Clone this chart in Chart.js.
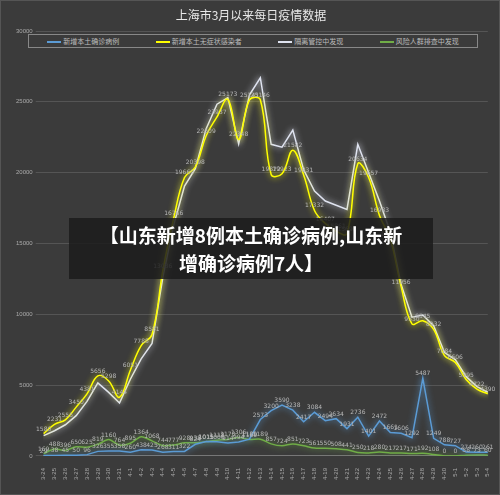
<!DOCTYPE html><html><head><meta charset="utf-8">
<script src="https://cdn.jsdelivr.net/npm/chart.js@4"></script>
<style>
html,body{margin:0;padding:0;background:#3b3b3b;}
#wrap{position:relative;width:500px;height:495px;border:1px solid #555;box-sizing:border-box;}
#title{position:absolute;left:0;top:5px;width:500px;text-align:center;color:#e8e8e8;font:12px "Noto Sans CJK SC";}
#legend{position:absolute;left:27px;top:33px;width:450px;height:14px;border:1px solid #888;box-sizing:border-box;display:flex;justify-content:space-around;align-items:center;font:7px "Noto Sans CJK SC";color:#bbb;background:#3b3b3b;}
#legend span i{display:inline-block;width:14px;height:1.5px;vertical-align:middle;margin-right:2px;}
#banner{position:absolute;left:68px;top:217px;width:364px;height:61px;background:rgba(28,28,28,0.85);color:#fff;font:bold 19px "Noto Sans CJK SC";text-align:center;line-height:28px;padding-top:3px;box-sizing:border-box;}
</style></head><body><div id="wrap"><canvas id="c" width="498" height="493"></canvas>
<div id="title">上海市3月以来每日疫情数据</div>
<div id="legend"></div>
<div id="banner">【山东新增8例本土确诊病例,山东新<br>增确诊病例7人】</div></div>
<script>
const categories=["3-24","3-25","3-26","3-27","3-28","3-29","3-30","3-31","4-1","4-2","4-3","4-4","4-5","4-6","4-7","4-8","4-9","4-10","4-11","4-12","4-13","4-14","4-15","4-16","4-17","4-18","4-19","4-20","4-21","4-22","4-23","4-24","4-25","4-26","4-27","4-28","4-29","4-30","5-1","5-2","5-3","5-4"];
const confirmed=[29,38,45,50,96,326,355,358,260,438,425,268,311,322,824,1015,1006,914,994,1189,2573,3200,3590,3238,2417,3084,2494,2634,1931,2736,1401,2472,1661,1606,1292,5487,1249,788,727,274,260,261];
const asymptomatic=[1580,2231,2555,3450,4381,5656,5298,4144,6051,7788,8581,13086,16766,19660,20398,22609,23937,25173,22348,25141,25146,19872,19923,21582,19831,17332,16407,15861,15698,20634,19657,16983,15319,11956,9330,9545,8932,7084,6606,5395,4722,4390];
const quarantine=[1440,1781,2204,2850,3852,5163,4493,3738,5416,6862,7938,12610,16300,19054,20284,23107,24832,25300,22036,25500,26700,22000,21800,23000,20200,18700,18000,17700,17400,22000,20000,18000,15800,12100,9800,9950,9200,7300,6800,5600,4900,4500];
const screening=[169,488,396,650,625,819,1160,764,895,1364,1068,744,777,928,938,1015,1118,1170,1306,1160,1189,857,724,851,723,561,550,508,441,250,218,280,217,217,171,192,108,0,0,58,73,60,54];
const yTicks=[0,5000,10000,15000,20000,25000,30000];
const names=['新增本土确诊病例','新增本土无症状感染者','隔离管控中发现','风险人群排查中发现'];
const colors=['#5b9bd5','#ffff00','#dfe3f0','#70ad47'];
document.getElementById('legend').innerHTML=names.map((n,i)=>`<span><i style="background:${colors[i]}"></i>${n}</span>`).join('');
const glow={id:'glow',beforeDatasetDraw(ch,a){const c=ch.ctx;c.save();c.shadowColor=a.meta.dataset.options.borderColor;c.shadowBlur=6;},afterDatasetDraw(ch){ch.ctx.restore();}};
const labels={id:'labels',afterDatasetsDraw(ch){const c=ch.ctx;c.save();c.font='6px "DejaVu Sans"';c.fillStyle='#b8b8b8';c.textAlign='center';
[0,1,3].forEach(di=>{const m=ch.getDatasetMeta(di);m.data.forEach((p,i)=>{c.fillText(ch.data.datasets[di].data[i],p.x,p.y-3);});});c.restore();}};
const ds=[confirmed,asymptomatic,quarantine,screening].map((d,i)=>({label:names[i],data:d,borderColor:colors[i],borderWidth:1.5,pointRadius:0,tension:[0,0.4,0,0.3][i]}));
new Chart(document.getElementById('c'),{type:'line',
data:{labels:categories,datasets:ds},
options:{responsive:false,animation:false,layout:{padding:{left:12,right:5,top:30,bottom:10}},
plugins:{legend:{display:false},tooltip:{enabled:false}},
scales:{x:{grid:{display:false},border:{color:'#777'},ticks:{color:'#aaa',font:{size:6},maxRotation:90,minRotation:90,autoSkip:false,padding:4}},
y:{min:0,max:30000,afterBuildTicks(ax){ax.ticks=yTicks.map(v=>({value:v}));},grid:{color:'#555'},border:{display:false},ticks:{color:'#aaa',font:{size:6},callback:v=>String(v)}}}},
plugins:[glow,labels]});
</script></body></html>
